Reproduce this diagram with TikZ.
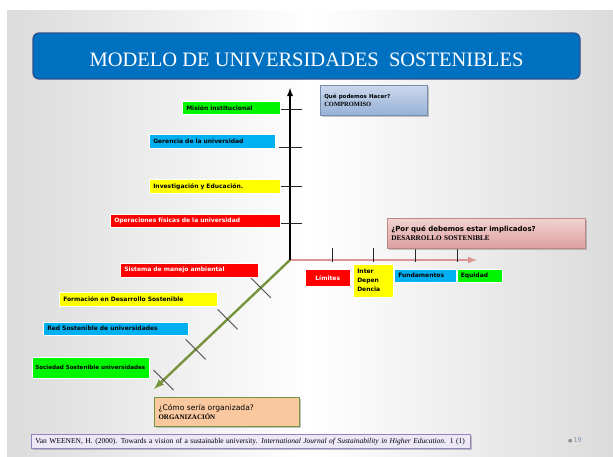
\documentclass[tikz,border=0pt]{standalone}
\usepackage{fontspec}
\setmainfont{Liberation Serif}
\newfontfamily\tagfont{DejaVu Sans}
\usetikzlibrary{arrows.meta, positioning, calc, shadows}
\definecolor{titleblue}{RGB}{0,112,192}
\definecolor{titleedge}{RGB}{47,82,143}
\definecolor{taggreen}{RGB}{0,245,0}
\definecolor{tagblue}{RGB}{0,176,240}
\definecolor{tagyellow}{RGB}{255,255,0}
\definecolor{tagred}{RGB}{255,0,0}
\definecolor{rosy}{RGB}{217,150,148}
\definecolor{olive}{RGB}{119,147,60}
\definecolor{steeltop}{RGB}{203,216,236}
\definecolor{steelbottom}{RGB}{150,177,215}
\definecolor{pinktop}{RGB}{242,210,210}
\definecolor{pinkbottom}{RGB}{220,160,158}
\definecolor{peach}{RGB}{249,200,158}
\definecolor{lavender}{RGB}{236,232,246}
\definecolor{lavedge}{RGB}{150,130,190}
\definecolor{pagegray}{RGB}{130,150,180}

\begin{document}
\begin{tikzpicture}[x=1pt, y=-1pt,
    tag_box/.style={anchor=north west, draw=white, line width=0.5pt, inner xsep=4pt, inner ysep=0pt, align=left, font=\tagfont\bfseries\fontsize{6}{7}\selectfont},
    call_box/.style={anchor=north west, inner xsep=4pt, inner ysep=2pt, align=left, line width=0.6pt, drop shadow={shadow xshift=1.2pt, shadow yshift=-1.5pt, opacity=0.45}},
    axis_line/.style={-latex, line width=1.8pt},
    tick_mark/.style={line width=0.9pt, draw=black!85}
]
    \useasboundingbox (0,0) rectangle (613,456);

    % slide background
    \fill[white] (0,0) rectangle (613,456);
    \shade[left color=black!14, right color=black!14, middle color=white] (7,10) rectangle (613,456);

    % title bar
    \node[draw=titleedge, line width=1.2pt, fill=titleblue, rounded corners=6pt, minimum width=547pt, minimum height=46pt,
          text=white, font=\fontsize{20.5}{24}\selectfont, text height=22pt] (title) at (306.5,56) {MODELO DE UNIVERSIDADES\ \ SOSTENIBLES};

    % axes
    \coordinate (origin) at (290,260);
    \coordinate (v_end) at (290,88);
    \coordinate (h_end) at (477,260);
    \coordinate (d_end) at (154,389);
    \draw[axis_line, rosy, line width=2pt] (origin) -- (h_end);
    \draw[axis_line, olive, line width=2.4pt] (origin) -- (d_end);
    \draw[axis_line, black] (origin) -- (v_end);

    % ticks on the vertical axis
    \draw[tick_mark] (279,109) -- (302,109);
    \draw[tick_mark] (279,147) -- (302,147);
    \draw[tick_mark] (279,186) -- (302,186);
    \draw[tick_mark] (279,223) -- (302,223);

    % ticks on the horizontal axis
    \draw[tick_mark] (332,248) -- (332,262);
    \draw[tick_mark] (373,248) -- (373,262);
    \draw[tick_mark] (415,248) -- (415,262);
    \draw[tick_mark] (457,248) -- (457,262);

    % ticks on the diagonal axis
    \draw[tick_mark, black!70] ($(origin)!0.215!(d_end)+(-10,-10)$) -- ++(20,20);
    \draw[tick_mark, black!70] ($(origin)!0.459!(d_end)+(-10,-10)$) -- ++(20,20);
    \draw[tick_mark, black!70] ($(origin)!0.693!(d_end)+(-10,-10)$) -- ++(20,20);
    \draw[tick_mark, black!70] ($(origin)!0.930!(d_end)+(-10,-10)$) -- ++(20,20);

    % labels of the vertical axis
    \node[tag_box, fill=taggreen, text width=90pt, minimum height=13pt] (mision) at (182,101) {Misión institucional};
    \node[tag_box, fill=tagblue, text width=118pt, minimum height=14pt] (gerencia) at (149,134) {Gerencia de la universidad};
    \node[tag_box, fill=tagyellow, text width=123pt, minimum height=14pt] (investigacion) at (149,179) {Investigación y Educación.};
    \node[tag_box, fill=tagred, text=white, text width=162pt, minimum height=13pt] (operaciones) at (110,214) {Operaciones físicas de la universidad};

    % labels of the horizontal axis
    \node[tag_box, fill=tagred, text=white, text width=37pt, minimum height=17pt, align=center] (limites) at (305,269) {Límites};
    \node[tag_box, fill=tagyellow, text width=32pt, minimum height=33pt, font=\tagfont\bfseries\fontsize{6}{9}\selectfont] (interdep) at (353,264) {Inter\\Depen\\Dencia};
    \node[tag_box, fill=tagblue, text width=54pt, minimum height=13pt] (fundamentos) at (394,269) {Fundamentos};
    \node[tag_box, fill=taggreen, text width=37pt, minimum height=13pt, anchor=west, right=0pt of fundamentos] (equidad) {Equidad};

    % labels of the diagonal axis
    \node[tag_box, fill=tagred, text=white, text width=130pt, minimum height=14pt] (sistema) at (120,263) {Sistema de manejo ambiental};
    \node[tag_box, fill=tagyellow, text width=150pt, minimum height=14pt] (formacion) at (59,292) {Formación en Desarrollo Sostenible};
    \node[tag_box, fill=tagblue, text width=137pt, minimum height=13pt] (red) at (43,322) {Red Sostenible de universidades};
    \node[tag_box, fill=taggreen, inner xsep=3pt, text width=111pt, minimum height=21pt, font=\tagfont\bfseries\fontsize{5.6}{7}\selectfont] (sociedad) at (32,357) {Sociedad Sostenible universidades};

    % question boxes
    \node[call_box, draw=steelbottom!80!black, top color=steeltop, bottom color=steelbottom, text width=99pt, minimum height=30pt,
          font=\fontsize{6.5}{7.5}\selectfont] (compromiso) at (320,85) {{\tagfont\bfseries\fontsize{5.5}{7.5}\selectfont Qué podemos Hacer?}\\\textbf{COMPROMISO}\\[5pt]};
    \node[call_box, draw=pinkbottom!85!black, top color=pinktop, bottom color=pinkbottom, text width=190pt, minimum height=30pt,
          font=\fontsize{7.2}{9}\selectfont] (desarrollo) at (387,218) {{\tagfont\bfseries\fontsize{7}{9}\selectfont ¿Por qué debemos estar implicados?}\\\textbf{DESARROLLO SOSTENIBLE}\\[3pt]};
    \node[call_box, draw=olive, line width=1pt, fill=peach, text width=137pt, minimum height=29pt,
          font=\fontsize{7}{8.5}\selectfont] (organizacion) at (154,397) {{\tagfont\fontsize{7.6}{8.5}\selectfont ¿Cómo sería organizada?}\\\textbf{ORGANIZACIÓN}};

    % reference and page number
    \node[call_box, draw=lavedge, fill=lavender, text width=431pt, minimum height=14pt, inner ysep=1pt,
          font=\fontsize{7.5}{9}\selectfont] (cita) at (31,434) {Van WEENEN, H. (2000). Towards a vision of a sustainable university. \textit{International Journal of Sustainability in Higher Education}. 1 (1)};
    \node[font=\tagfont\fontsize{6.5}{8}\selectfont, text=pagegray] (pagina) at (575,440) {\textcolor{black!45}{\tiny●}\,19};

\end{tikzpicture}
\end{document}
